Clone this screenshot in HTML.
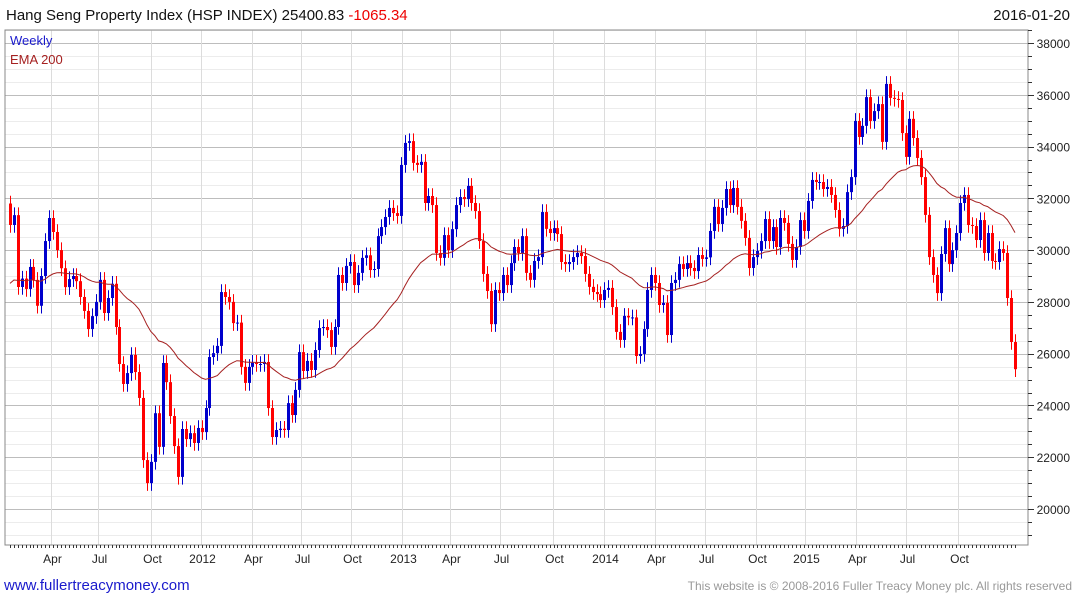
<!DOCTYPE html>
<html><head><meta charset="utf-8">
<style>
html,body{margin:0;padding:0;background:#fff;}
body{width:1075px;height:600px;position:relative;overflow:hidden;font-family:"Liberation Sans",sans-serif;}
svg{position:absolute;left:0;top:0;}
</style></head>
<body>
<svg id="chart" width="1075" height="600">
  <text x="6" y="20" font-size="15" fill="#111">Hang Seng Property Index (HSP INDEX) 25400.83 <tspan fill="#e00">-1065.34</tspan></text>
  <text x="1070" y="20" font-size="15" fill="#111" text-anchor="end">2016-01-20</text>
  <g id="grid"></g>
  <g id="marks"></g>
  <path id="ema" fill="none" stroke="#a52020" stroke-width="1"></path>
  <rect x="5" y="30" width="1023" height="515" fill="none" stroke="#888" stroke-width="1"></rect>
  <g id="axes"></g>
  <text x="10" y="45" font-size="13" fill="#1a1acc">Weekly</text>
  <text x="10" y="64" font-size="13" fill="#a52020">EMA 200</text>
  <text x="4" y="590" font-size="15" fill="#1a1acc">www.fullertreacymoney.com</text>
  <text x="1072" y="590" font-size="12" fill="#999" text-anchor="end">This website is © 2008-2016 Fuller Treacy Money plc. All rights reserved</text>
</svg>
<script>
const closes = [
30970,31350,28575,28900,28500,29350,28850,27850,29000,30350,31240,30700,30000,29300,28570,28880,29000,28800,28190,27650,
26950,27450,28000,28850,27570,28150,28700,27030,25600,24830,25250,25950,25290,24290,21890,21000,21820,23700,22400,25640,
24900,23590,22430,21240,23090,22700,22930,22550,23130,22970,23900,25870,26020,26300,28380,28190,28000,27180,27200,25490,
24870,25490,25650,25600,25600,25680,23900,22780,23050,23100,23050,24090,23630,24600,26060,25330,25720,25370,26140,26990,
27030,26910,26260,27030,29040,28730,29390,29540,28650,29120,29700,29800,29230,29270,30540,30890,31280,31630,31430,31320,
33290,34140,34210,33370,33290,33410,31820,32090,31740,29890,29700,30580,30000,30810,31740,32050,31970,32480,31820,31510,
30350,29080,28420,27140,28460,28340,29040,28650,29500,30120,29890,30540,29120,28850,29580,29730,31470,30820,30660,30850,
30620,29540,29460,29540,29730,29890,29770,29080,28580,28380,28300,28070,28460,28540,27800,26840,26530,27460,27400,27400,
25910,25990,26950,28460,29040,28730,27880,27960,26720,28730,28850,29460,29270,29500,29310,29190,29810,29660,29720,30740,
31670,31010,31630,32360,31740,32400,31670,31130,30470,29310,29730,29970,30350,31200,30350,30890,30120,31240,31050,30240,
29620,30120,31160,30740,31900,32710,32630,32630,32360,32440,32130,31550,30820,30930,32240,32820,34990,34370,34800,35910,
34990,35370,35640,34180,36420,35880,35840,35800,34520,33600,35070,34330,33560,32820,31360,29730,29040,28340,29850,30850,
29460,30000,30660,31820,32130,30970,30930,30390,31160,29890,30660,29580,29540,30040,29890,28150,26450,25400
];
const firstOpen = 31800;
const emaSeed = 28600;
const emaPeriod = 40;
const yTicks = [20000,22000,24000,26000,28000,30000,32000,34000,36000,38000];
const xTickLabels = ["Apr","Jul","Oct","2012","Apr","Jul","Oct","2013","Apr","Jul","Oct","2014","Apr","Jul","Oct","2015","Apr","Jul","Oct"];
const xTickWeeks = [10.5,22.5,36.1,48.8,61.9,74.4,87.2,100.3,112.5,125.3,138.9,151.9,165.0,177.7,190.8,203.3,216.4,229.2,242.5];

const NS="http://www.w3.org/2000/svg";
const X0=10, XLAST=1015;
const STEP=(XLAST-X0)/257;
const xS=i=>X0+i*STEP;
const xC=i=>X0+i*(XLAST-X0)/(closes.length-1);
const yS=v=>509-(v-20000)*466/18000;
function mk(tag,attrs,parent){const e=document.createElementNS(NS,tag);for(const k in attrs)e.setAttribute(k,attrs[k]);parent.appendChild(e);return e;}
const grid=document.getElementById('grid'),axes=document.getElementById('axes'),marks=document.getElementById('marks');

for(let v=19000;v<=38500;v+=500){
  const y=Math.round(yS(v))+0.5;
  if(y<30||y>545)continue;
  const major=v%2000===0;
  const l=mk('line',{x1:5,x2:1028,y1:y,y2:y,stroke:major?'#bdbdbd':'#ececec','stroke-width':1},grid);
  
  
  const t=mk('line',{x1:1028,x2:major?1034:1032,y1:y,y2:y,stroke:'#333'},axes);
  
  
}
yTicks.forEach(v=>{
  const t=mk('text',{x:1070,y:yS(v)+5,'font-size':12,fill:'#222','text-anchor':'end'},axes);
  t.textContent=v;
  
  
});
xTickWeeks.forEach((w,k)=>{
  const x=Math.round(X0+w*3.91)+0.5;
  const l=mk('line',{x1:x,x2:x,y1:30,y2:545,stroke:'#dcdcdc'},grid);
  
  
  const t=mk('text',{x:x+1,y:563,'font-size':12,fill:'#222','text-anchor':'middle'},axes);
  t.textContent=xTickLabels[k];
  
  
});
for(let i=0;i<closes.length;i++){
  const x=Math.round(xC(i))+0.5;
  const t=mk('line',{x1:x,x2:x,y1:545,y2:548,stroke:'#333'},axes);
  
  
}
let prev=firstOpen;
closes.forEach((c,i)=>{
  const o=prev; prev=c;
  const up=c>=o, col=up?'#0000cc':'#ff0000';
  const hi=Math.max(o,c)+300, lo=Math.min(o,c)-300;
  const x=Math.round(xC(i));
  const w=mk('line',{x1:x+0.5,x2:x+0.5,y1:yS(hi),y2:yS(lo),stroke:col,'stroke-width':1},marks);
  
  
  const top=yS(Math.max(o,c)),bot=yS(Math.min(o,c));
  const b=mk('rect',{x:x-1,y:top,width:3,height:Math.max(1,bot-top),fill:col},marks);
  
  
});
let e=emaSeed;const a=2/(emaPeriod+1);let d='';
closes.forEach((c,i)=>{e=e+a*(c-e);d+=(i?'L':'M')+xC(i).toFixed(1)+' '+yS(e).toFixed(1);});
document.getElementById('ema').setAttribute('d',d);
</script>
</body></html>
